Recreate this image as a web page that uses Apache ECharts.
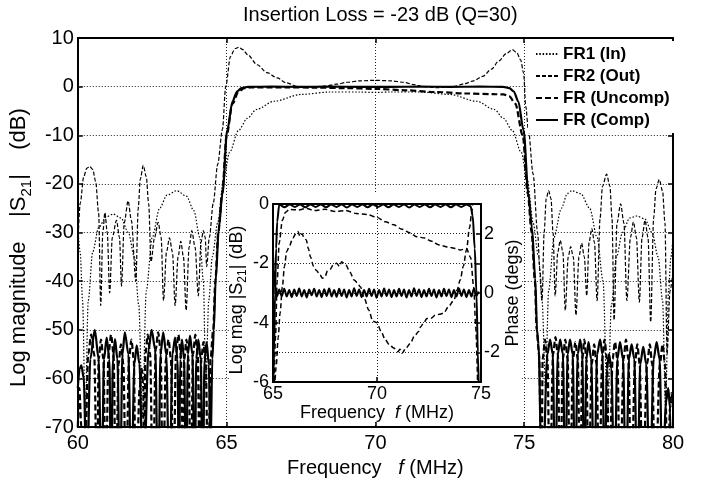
<!DOCTYPE html>
<html>
<head>
<meta charset="utf-8">
<script src="https://cdn.jsdelivr.net/npm/echarts@6/dist/echarts.min.js"></script>
<style>html,body{margin:0;padding:0;background:#fff}#c{width:705px;height:483px}</style>
</head>
<body>
<div id="c"></div>
<script>
// ---- data ----
var titleText = 'Insertion Loss = -23 dB (Q=30)';
var legendNames = ['FR1 (In)', 'FR2 (Out)', 'FR (Uncomp)', 'FR (Comp)'];
var mainXTicks = [60, 65, 70, 75, 80];
var mainYTicks = [-70, -60, -50, -40, -30, -20, -10, 0, 10];

var fr1In = [
[60.0,-29],[60.08,-34],[60.16,-44],[60.25,-68],
[60.35,-44],[60.5,-34],[60.7,-29],[60.95,-26.8],[61.19,-26.2],[61.45,-27],[61.7,-30],[61.9,-35],[62.05,-45],[62.17,-68],
[62.3,-42],[62.5,-31],[62.75,-25],[63.0,-22.3],[63.32,-21.4],[63.65,-22.5],[63.9,-25.5],[64.1,-31],[64.22,-40],[64.3,-62],
[64.4,-44],[64.52,-35],[64.7,-28],[64.9,-19],[65.1,-13.5],[65.4,-9],[65.7,-6.5],[66.0,-4.7],[66.6,-3.0],[67.5,-1.6],[68.5,-1.1],[69.5,-1.1],[70.0,-1.2],[70.5,-1.1],[71.5,-1.1],[72.5,-1.6],[73.4,-3.0],[74.0,-4.7],[74.3,-6.5],[74.6,-9],[74.9,-13.5],[75.1,-19],[75.3,-28],[75.48,-35],[75.6,-44],[75.72,-62],
[75.82,-42],[76.0,-31],[76.25,-25],[76.45,-22],[76.6,-21.4],[76.9,-22],[77.2,-25],[77.45,-31],[77.65,-40],[77.8,-68],
[77.93,-45],[78.1,-35],[78.3,-30],[78.55,-27],[78.78,-26.6],[79.05,-27.2],[79.3,-30],[79.5,-35],[79.65,-44],[79.75,-66],
[79.85,-42],[79.93,-35],[80.0,-31]
];

var fr2Out = [
[60.0,-33],[60.08,-24],[60.2,-18.5],[60.3,-16.8],[60.4,-16.4],[60.5,-17],[60.6,-19.5],[60.7,-26],[60.77,-45],
[60.84,-30],[60.91,-25.9],[60.99,-30],[61.07,-42.4],
[61.16,-31],[61.3,-27.5],[61.4,-31],[61.47,-41],
[61.56,-28],[61.69,-23.5],[61.8,-27.5],[61.95,-40],
[62.03,-25],[62.1,-19],[62.2,-16.2],[62.3,-18.5],[62.38,-24],[62.46,-36],
[62.58,-31],[62.7,-27.9],[62.8,-31],[62.88,-44],
[62.98,-34],[63.08,-31.1],[63.18,-34],[63.27,-45],
[63.37,-35],[63.46,-31.8],[63.55,-35],[63.64,-46],
[63.74,-33],[63.83,-29.6],[63.94,-33],[64.05,-43],
[64.14,-32],[64.22,-29.6],[64.28,-31],[64.33,-37],
[64.42,-31],[64.55,-24],[64.7,-16],[64.86,-8.8],[64.97,0],[65.13,6.2],[65.28,7.8],[65.41,8.1],[65.55,7.6],[65.7,6.6],[66.03,4.5],[66.35,2.9],[66.7,1.8],[67.0,0.8],[67.4,0],[67.8,-0.1],[68.3,0.1],[68.7,0.5],[69.05,0.9],[69.5,1.2],[70.0,1.3],[70.5,1.2],[70.95,0.9],[71.3,0.4],[71.6,0.0],[72.1,-0.2],[72.6,0.0],[73.0,0.6],[73.3,1.2],[73.6,2.1],[73.9,3.6],[74.15,5.3],[74.4,6.8],[74.6,7.6],[74.75,7.0],[74.88,5.5],[74.98,2.8],[75.05,-4],[75.14,-8.8],[75.3,-18],[75.45,-30],[75.53,-38],[75.6,-44],
[75.67,-30],[75.74,-23],[75.82,-21.4],[75.9,-23],[75.97,-30],[76.04,-43],
[76.13,-34],[76.21,-31.6],[76.3,-34],[76.38,-46],
[76.48,-35],[76.56,-32.9],[76.65,-35],[76.74,-47],
[76.84,-35],[76.93,-32.2],[77.02,-35],[77.1,-43],
[77.18,-32],[77.27,-29.2],[77.36,-32],[77.45,-44],
[77.55,-27],[77.63,-20.5],[77.77,-18],[77.88,-20.5],[77.95,-27],[78.02,-48],
[78.12,-28],[78.24,-24.1],[78.35,-28],[78.45,-44],
[78.57,-31],[78.67,-27.8],[78.77,-31],[78.87,-44.3],
[78.96,-31],[79.06,-27.5],[79.16,-31],[79.25,-48.4],
[79.35,-27],[79.43,-21],[79.54,-19.1],[79.65,-21.5],[79.73,-28],[79.8,-55],
[79.9,-42],[80.0,-38]
];

var frUncomp = [
[60.0,-70],[60.05,-62],[60.12,-70],[60.22,-85],
[60.35,-55],[60.45,-51],[60.55,-55],[60.65,-85],
[60.7,-56],[60.78,-52],[60.86,-56],[60.94,-85],
[61.03,-55],[61.12,-51],[61.2,-55],[61.28,-85],
[61.37,-57],[61.45,-53],[61.53,-57],[61.62,-85],
[61.72,-56],[61.8,-52],[61.88,-56],[61.95,-85],
[62.08,-62],[62.15,-58],[62.2,-62],[62.23,-85],
[62.27,-55],[62.35,-51],[62.43,-55],[62.52,-85],
[62.62,-54],[62.7,-50.5],[62.78,-54],[62.86,-85],
[62.96,-56],[63.05,-52],[63.13,-56],[63.21,-85],
[63.3,-55],[63.38,-51],[63.46,-55],[63.54,-85],
[63.58,-56],[63.65,-52],[63.72,-56],[63.8,-85],
[63.87,-55],[63.95,-51],[64.03,-55],[64.1,-85],
[64.15,-56],[64.22,-52.5],[64.3,-57],[64.38,-85],
[64.46,-56],[64.55,-50],[64.62,-40],[64.72,-30],[64.85,-22],[65.0,-10],[65.2,-3.5],[65.4,-1],[65.6,-0.3],[65.8,-0.15],[67,-0.15],[68,-0.2],[69,-0.3],[70,-0.45],[71,-0.75],[72,-1.1],[73,-1.4],[74,-1.55],[74.3,-1.6],[74.5,-2],[74.7,-3.5],[74.95,-10],[75.12,-22],[75.25,-30],[75.36,-40],[75.42,-50],[75.5,-55],[75.58,-85],
[75.62,-56],[75.7,-52],[75.78,-56],[75.86,-85],
[75.97,-55],[76.05,-51.5],[76.13,-55],[76.21,-85],
[76.3,-56],[76.38,-52],[76.46,-56],[76.54,-85],
[76.64,-56],[76.72,-52.5],[76.8,-56],[76.88,-85],
[76.95,-56],[77.02,-52],[77.09,-56],[77.16,-85],
[77.27,-57],[77.35,-53],[77.43,-57],[77.52,-85],
[77.62,-56],[77.7,-52],[77.78,-56],[77.86,-85],
[77.97,-56],[78.05,-52.5],[78.13,-56],[78.22,-85],
[78.34,-56],[78.42,-52],[78.5,-56],[78.6,-85],
[78.72,-57],[78.8,-53],[78.88,-57],[78.98,-85],
[79.13,-57],[79.22,-53],[79.3,-57],[79.4,-85],
[79.56,-57],[79.65,-53],[79.73,-57],[79.82,-85],
[79.9,-66],[79.95,-63],[80.0,-66]
];

var frComp = [
[60.0,-62],[60.06,-58],[60.12,-57.3],[60.2,-60],[60.3,-85],
[60.42,-56],[60.57,-50],[60.7,-56],[60.8,-85],
[60.88,-56],[60.97,-51.6],[61.06,-56],[61.12,-85],
[61.18,-56],[61.25,-51.9],[61.33,-56],[61.42,-85],
[61.5,-55],[61.58,-50.5],[61.7,-55],[61.8,-85],
[61.9,-57],[61.98,-53.2],[62.07,-57],[62.2,-85],
[62.38,-54],[62.48,-50],[62.6,-54],[62.7,-85],
[62.78,-55],[62.87,-50.5],[62.97,-55],[63.08,-85],
[63.18,-55],[63.27,-51.6],[63.35,-56],[63.4,-85],
[63.44,-56],[63.5,-52],[63.57,-56],[63.64,-85],
[63.7,-55],[63.77,-51.2],[63.85,-55],[63.93,-85],
[63.98,-56],[64.05,-52],[64.13,-56],[64.2,-85],
[64.26,-56],[64.33,-52.6],[64.4,-57],[64.46,-75],
[64.52,-56],[64.57,-50],[64.63,-40],[64.74,-29],[64.86,-22],[65.02,-9],[65.2,-3],[65.35,-1],[65.5,-0.3],[65.7,-0.05],[66.5,0],[67.5,-0.05],[68.5,0],[69.5,-0.05],[70.5,-0.05],[71.5,0],[72.5,-0.05],[73.5,0],[74.3,-0.05],[74.5,-0.3],[74.65,-1],[74.8,-3],[74.98,-9],[75.14,-22],[75.26,-29],[75.37,-39.4],[75.43,-50],[75.48,-53],[75.6,-85],
[75.78,-55],[75.87,-52],[75.96,-55],[76.04,-85],
[76.13,-55],[76.21,-52],[76.3,-55],[76.38,-85],
[76.46,-55],[76.54,-52],[76.63,-55],[76.71,-85],
[76.8,-55],[76.88,-52],[76.95,-55],[77.02,-85],
[77.09,-56],[77.16,-52.5],[77.25,-56],[77.35,-85],
[77.45,-55],[77.55,-52],[77.63,-55],[77.7,-85],
[77.78,-58],[77.85,-55],[77.93,-58],[78.03,-85],
[78.13,-56],[78.22,-52.5],[78.32,-56],[78.42,-85],
[78.52,-56],[78.61,-53],[78.7,-56],[78.8,-85],
[78.9,-57],[79.0,-53.5],[79.1,-57],[79.22,-85],
[79.35,-56],[79.45,-52.5],[79.55,-56],[79.65,-85],
[79.76,-65],[79.84,-62],[79.9,-66],[79.95,-85],[80.0,-70]
];

// inset (65-75 MHz): magnitude in dB (left axis), phase in degrees (right axis)
var insetCompMag = [
[65.0,-7],[65.05,-5],[65.1,-3],[65.15,-1.5],[65.2,-0.6],[65.3,-0.02],
[65.55,-0.11],[65.8,-0.02],[66.05,-0.1],[66.3,-0.02],[66.55,-0.11],[66.8,-0.02],[67.05,-0.1],[67.3,-0.02],[67.55,-0.11],[67.8,-0.02],[68.05,-0.1],[68.3,-0.02],[68.55,-0.12],[68.8,-0.02],[69.05,-0.1],[69.3,-0.02],[69.55,-0.11],[69.8,-0.02],[70.05,-0.1],[70.3,-0.02],[70.55,-0.11],[70.8,-0.02],[71.05,-0.1],[71.3,-0.02],[71.55,-0.12],[71.8,-0.02],[72.05,-0.1],[72.3,-0.02],[72.55,-0.11],[72.8,-0.02],[73.05,-0.1],[73.3,-0.02],[73.55,-0.11],[73.8,-0.02],[74.05,-0.1],[74.3,-0.02],
[74.5,-0.08],[74.6,-0.4],[74.7,-1.5],[74.78,-3],[74.85,-5],[74.9,-6.5]
];
var insetUncompMag = [
[65.05,-6.5],[65.12,-4.5],[65.2,-2.6],[65.3,-1.3],[65.45,-0.55],[65.6,-0.28],[65.8,-0.18],[66.2,-0.2],[66.6,-0.15],[67.0,-0.22],[67.5,-0.18],[68.0,-0.25],[68.5,-0.22],[69.0,-0.32],[69.5,-0.35],[70.0,-0.45],[70.4,-0.6],[70.8,-0.7],[71.2,-0.85],[71.6,-0.98],[71.9,-1.1],[72.3,-1.15],[72.6,-1.25],[73.0,-1.38],[73.4,-1.45],[73.8,-1.5],[74.0,-1.55],[74.3,-1.5],[74.5,-1.8],[74.65,-2.8],[74.75,-4.2],[74.85,-6.5]
];
var insetCompPhase = [
[65.0,1.3],[65.04,0.8],[65.08,0.35],[65.14,0.1],[65.2,-0.1],
[65.3,0.12],[65.42,-0.1],[65.54,0.14],[65.66,-0.12],[65.78,0.1],[65.9,-0.14],[66.02,0.12],[66.14,-0.1],[66.26,0.15],[66.38,-0.12],[66.5,0.1],[66.62,-0.15],[66.74,0.12],[66.86,-0.08],[66.98,0.14],[67.1,-0.12],[67.22,0.1],[67.34,-0.14],[67.46,0.13],[67.58,-0.1],[67.7,0.15],[67.82,-0.12],[67.94,0.1],[68.06,-0.13],[68.18,0.14],[68.3,-0.1],[68.42,0.12],[68.54,-0.15],[68.66,0.1],[68.78,-0.12],[68.9,0.16],[69.02,-0.1],[69.14,0.12],[69.26,-0.14],[69.38,0.1],[69.5,-0.12],[69.62,0.14],[69.74,-0.1],[69.86,0.12],[69.98,-0.16],[70.1,0.1],[70.22,-0.12],[70.34,0.15],[70.46,-0.1],[70.58,0.12],[70.7,-0.14],[70.82,0.1],[70.94,-0.12],[71.06,0.14],[71.18,-0.1],[71.3,0.12],[71.42,-0.15],[71.54,0.1],[71.66,-0.12],[71.78,0.16],[71.9,-0.1],[72.02,0.12],[72.14,-0.14],[72.26,0.1],[72.38,-0.12],[72.5,0.14],[72.62,-0.1],[72.74,0.12],[72.86,-0.15],[72.98,0.1],[73.1,-0.12],[73.22,0.14],[73.34,-0.1],[73.46,0.12],[73.58,-0.14],[73.7,0.1],[73.82,-0.12],[73.94,0.15],[74.06,-0.1],[74.18,0.12],[74.3,-0.14],[74.42,0.1],[74.54,-0.12],[74.66,0.14],[74.78,-0.1],[74.88,0.05]
];
var insetUncompPhase = [
[65.08,-3.2],[65.15,-2.5],[65.25,-1.5],[65.34,-0.68],[65.45,0.2],[65.55,0.9],[65.66,1.4],[65.8,1.6],[65.95,1.85],[66.1,2.0],[66.2,2.07],[66.3,1.9],[66.4,2.0],[66.5,1.85],[66.6,1.79],[66.7,1.5],[66.8,1.22],[66.95,0.9],[67.1,0.75],[67.26,0.61],[67.38,0.5],[67.5,0.55],[67.62,0.75],[67.75,0.8],[67.9,0.95],[68.06,1.0],[68.2,0.9],[68.3,1.05],[68.5,0.95],[68.7,0.7],[68.9,0.44],[69.05,0.35],[69.2,0.21],[69.4,-0.2],[69.6,-0.57],[69.8,-0.95],[70.0,-1.0],[70.2,-1.3],[70.4,-1.58],[70.6,-1.75],[70.8,-1.85],[71.0,-1.98],[71.1,-1.9],[71.2,-2.03],[71.4,-1.85],[71.6,-1.7],[71.8,-1.45],[72.0,-1.3],[72.1,-1.14],[72.25,-1.0],[72.4,-0.86],[72.6,-0.85],[72.8,-0.75],[73.0,-0.72],[73.2,-0.68],[73.45,-0.45],[73.7,-0.24],[73.85,0.1],[74.0,0.44],[74.15,0.9],[74.3,1.45],[74.45,2.2],[74.55,2.69],[74.62,3.3]
];

// ---- chart ----
var FONT = 'Arial, "Liberation Sans", Helvetica, sans-serif';
var chart = echarts.init(document.getElementById('c'), null, {renderer: 'canvas'});
var grid = {type: [1, 2], color: '#222', width: 1};
function frameAxis(extra) {
  var a = {
    type: 'value',
    axisLine: {show: true, onZero: false, lineStyle: {color: '#000', width: 2}},
    axisTick: {show: true, inside: true, length: 5, lineStyle: {color: '#000', width: 1.5}},
    axisLabel: {show: false},
    splitLine: {show: false}
  };
  for (var k in extra) a[k] = extra[k];
  return a;
}
function lineS(name, data, xi, yi, style, z) {
  return {
    name: name, type: 'line', data: data, xAxisIndex: xi, yAxisIndex: yi,
    showSymbol: false, symbol: 'none', smooth: 0.3, smoothMonotone: 'x',
    color: '#000', itemStyle: {color: '#000', opacity: 0},
    lineStyle: style, z: z, animation: false, silent: true, clip: true
  };
}
var sFR1 = {color: '#000', width: 1.2, type: [1.5, 1.8]};
var sFR2 = {color: '#000', width: 1.2, type: [4, 2]};
var sUnc = {color: '#000', width: 2.2, type: [6, 3]};
var sCmp = {color: '#000', width: 2.2, type: 'solid'};

var option = {
  backgroundColor: '#fff',
  animation: false,
  title: {
    text: titleText, left: 238, top: 0,
    textStyle: {fontFamily: FONT, fontSize: 20, fontWeight: 'normal', color: '#000'}
  },
  legend: {
    data: legendNames, orient: 'vertical', left: 528, top: 41,
    itemWidth: 22, itemHeight: 14, itemGap: 4, padding: [4, 6, 4, 7],
    backgroundColor: '#fff', selectedMode: false,
    itemStyle: {opacity: 0, borderWidth: 0},
    textStyle: {fontFamily: FONT, fontSize: 17, fontWeight: 'bold', color: '#000', lineHeight: 18}
  },
  grid: [
    {left: 77, top: 38, width: 596, height: 392},
    {left: 273, top: 204, width: 208, height: 178, z: 10}
  ],
  graphic: [{
    type: 'rect', z: 5, silent: true,
    shape: {x: 230, y: 192, width: 292, height: 228},
    style: {fill: '#fff'}
  }],
  xAxis: [
    frameAxis({gridIndex: 0, min: 60, max: 80, interval: 5, position: 'bottom',
      axisLabel: {show: true, fontFamily: FONT, fontSize: 20, color: '#000', margin: 6},
      splitLine: {show: true, lineStyle: grid},
      name: '{a|Frequency   }{i|f}{a| (MHz)}', nameLocation: 'middle', nameGap: 24,
      nameTextStyle: {rich: {a: {fontFamily: FONT, fontSize: 20, color: '#000'}, i: {fontFamily: FONT, fontSize: 20, fontStyle: 'italic', color: '#000'}}}
    }),
    frameAxis({gridIndex: 0, min: 60, max: 80, interval: 5, position: 'top'}),
    frameAxis({gridIndex: 1, min: 65, max: 75, interval: 5, position: 'bottom', z: 10,
      axisLabel: {show: true, fontFamily: FONT, fontSize: 18, color: '#000', margin: 3},
      splitLine: {show: true, lineStyle: grid},
      name: '{a|Frequency  }{i|f}{a| (MHz)}', nameLocation: 'middle', nameGap: 21,
      nameTextStyle: {rich: {a: {fontFamily: FONT, fontSize: 18, color: '#000'}, i: {fontFamily: FONT, fontSize: 18, fontStyle: 'italic', color: '#000'}}}
    }),
    frameAxis({gridIndex: 1, min: 65, max: 75, interval: 5, position: 'top', z: 10})
  ],
  yAxis: [
    frameAxis({gridIndex: 0, min: -70, max: 10, interval: 10, position: 'left',
      axisLabel: {show: true, fontFamily: FONT, fontSize: 20, color: '#000', margin: 4},
      splitLine: {show: true, lineStyle: grid},
      name: '{a|Log magnitude    |S}{s|21}{a||    (dB)}', nameLocation: 'middle', nameGap: 41, nameRotate: 90,
      nameTextStyle: {padding: [0, 30, 0, 0], rich: {
        a: {fontFamily: FONT, fontSize: 22, color: '#000', lineHeight: 30},
        s: {fontFamily: FONT, fontSize: 15, color: '#000', lineHeight: 15, verticalAlign: 'bottom'}
      }}
    }),
    frameAxis({gridIndex: 0, min: -70, max: 10, interval: 10, position: 'right'}),
    frameAxis({gridIndex: 1, min: -6, max: 0, interval: 1, position: 'left', z: 10,
      axisLabel: {show: true, fontFamily: FONT, fontSize: 18, color: '#000', margin: 4,
        formatter: function (v) { return (Math.round(v) % 2 === 0) ? String(v) : ''; }},
      splitLine: {show: true, lineStyle: grid},
      name: '{a|Log mag |S}{s|21}{a|| (dB)}', nameLocation: 'middle', nameGap: 24, nameRotate: 90,
      nameTextStyle: {padding: [0, 14, 0, 0], rich: {
        a: {fontFamily: FONT, fontSize: 18, color: '#000', lineHeight: 24},
        s: {fontFamily: FONT, fontSize: 12, color: '#000', lineHeight: 12, verticalAlign: 'bottom'}
      }}
    }),
    frameAxis({gridIndex: 1, min: -3, max: 3, interval: 1, position: 'right', z: 10,
      axisLabel: {show: true, fontFamily: FONT, fontSize: 18, color: '#000', margin: 3,
        formatter: function (v) { return (Math.round(v) % 2 === 0) ? String(v) : ''; }},
      name: 'Phase (degs)', nameLocation: 'middle', nameGap: 22, nameRotate: 90,
      nameTextStyle: {fontFamily: FONT, fontSize: 18, color: '#000'}
    })
  ],
  series: [
    lineS(legendNames[0], fr1In, 0, 0, sFR1, 2),
    lineS(legendNames[1], fr2Out, 0, 0, sFR2, 2),
    lineS(legendNames[2], frUncomp, 0, 0, sUnc, 2),
    lineS(legendNames[3], frComp, 0, 0, sCmp, 2),
    lineS('inset comp mag', insetCompMag, 2, 2, {color: '#000', width: 2}, 12),
    lineS('inset uncomp mag', insetUncompMag, 2, 2, {color: '#000', width: 1.5, type: [5, 3]}, 12),
    lineS('inset comp phase', insetCompPhase, 2, 3, {color: '#000', width: 2}, 12),
    lineS('inset uncomp phase', insetUncompPhase, 2, 3, {color: '#000', width: 1.5, type: [5, 3]}, 12)
  ]
};
chart.setOption(option);
</script>
</body>
</html>
